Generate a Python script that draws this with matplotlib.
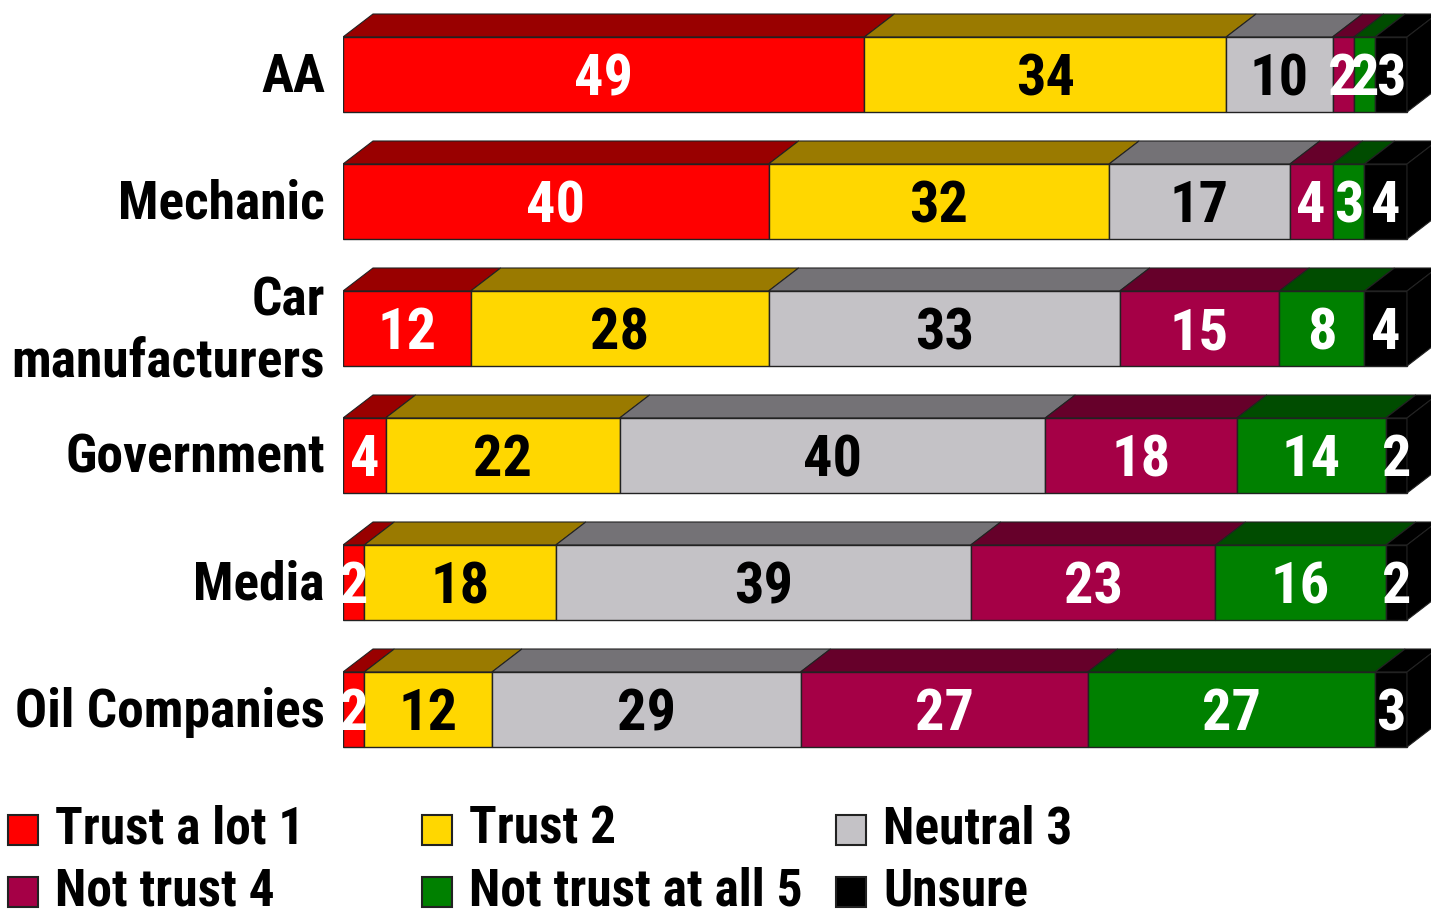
import matplotlib
matplotlib.use('Agg')
import matplotlib.pyplot as plt
from matplotlib.patches import Polygon, Rectangle

# data
categories = ['AA', 'Mechanic', 'Car\nmanufacturers', 'Government', 'Media',
              'Oil Companies']
series = ['Trust a lot 1', 'Trust 2', 'Neutral 3', 'Not trust 4',
          'Not trust at all 5', 'Unsure']
trust_lot = [49, 40, 12, 4, 2, 2]
trust = [34, 32, 28, 22, 18, 12]
neutral = [10, 17, 33, 40, 39, 29]
not_trust = [2, 4, 15, 18, 23, 27]
not_trust_all = [2, 3, 8, 14, 16, 27]
unsure = [3, 4, 4, 2, 2, 3]

front_cols = ['#FF0000', '#FFD700', '#C4C2C6', '#A50046', '#008000', '#000000']
top_cols = ['#990000', '#9A7A00', '#747276', '#66002A', '#004C00', '#000000']
text_cols = ['white', 'black', 'black', 'white', 'white', 'white']

plt.rcParams['font.family'] = ['Roboto Condensed', 'DejaVu Sans']
plt.rcParams['font.weight'] = 'bold'

W, H = 1431, 914
fig = plt.figure(figsize=(W / 100, H / 100), dpi=100)
ax = fig.add_axes([343 / W, 1 - 760 / H, 1088 / W, 760 / H])
px = 10.64          # pixels per percent
ax.set_xlim(0, 1088 / px)
ax.set_ylim((760 - 74.5) / 127, -74.5 / 127)
ax.axis('off')

bh = 75 / 127
ddx = 30 / px
ddy = 23 / 127

data = [trust_lot, trust, neutral, not_trust, not_trust_all, unsure]
for i in range(len(categories)):
    left = 0
    for k, vals in enumerate(data):
        v = vals[i]
        top = i - bh / 2
        ax.add_patch(Polygon([(left, top), (left + ddx, top - ddy),
                              (left + v + ddx, top - ddy), (left + v, top)],
                             closed=True, facecolor=top_cols[k],
                             edgecolor='#222222', linewidth=0.8))
        ax.barh(i, v, left=left, height=bh, color=front_cols[k],
                edgecolor='#222222', linewidth=1.0)
        ax.text(left + v / 2, i + 0.04, str(v), ha='center', va='center',
                fontsize=42, color=text_cols[k])
        left += v
    # side face of the 3D bar
    top = i - bh / 2
    ax.add_patch(Polygon([(left, top), (left + ddx, top - ddy),
                          (left + ddx, top - ddy + bh), (left, top + bh)],
                         closed=True, facecolor='black', edgecolor='#222222',
                         linewidth=0.8, clip_on=False))
    ax.text(-18 / px, i + 0.02, categories[i], ha='right', va='center',
            fontsize=38.5, linespacing=1.25, color='black')

# legend
leg_x = [8, 422, 836]
leg_y = [830, 892]
for k, name in enumerate(series):
    x0 = leg_x[k % 3]
    y0 = leg_y[k // 3]
    fig.patches.append(Rectangle((x0 / W, 1 - (y0 + 15) / H), 30 / W, 30 / H,
                                 transform=fig.transFigure,
                                 facecolor=front_cols[k], edgecolor='#222222',
                                 linewidth=1.5))
    fig.text((x0 + 47) / W, 1 - y0 / H, name, ha='left', va='center',
             fontsize=37, color='black')

fig.savefig('out.png', dpi=100, facecolor='white')
